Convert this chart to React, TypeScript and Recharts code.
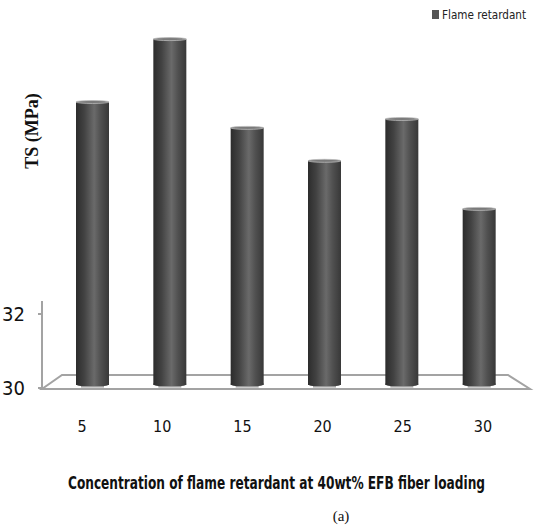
import React from "react";
import { BarChart, Bar, XAxis, YAxis, ReferenceArea, Legend } from "recharts";

const categories = ["5", "10", "15", "20", "25", "30"];
const tsValues = [37.73, 39.43, 37.03, 36.14, 37.27, 34.84];
const yTicks = [30, 32];
const seriesName = "Flame retardant";
const xTitle = "Concentration  of flame retardant at 40wt%  EFB fiber loading";
const yTitle = "TS (MPa)";
const caption = "(a)";

const data = categories.map((c, i) => ({ conc: c, ts: tsValues[i] }));

const NARROW = "'Liberation Sans Narrow', 'Arial Narrow', 'DejaVu Sans Condensed', sans-serif";
const SERIF = "'Liberation Serif', 'Times New Roman', serif";

const Cylinder = (props: any) => {
  const { x, y, width, height } = props;
  if (!height || height <= 0) return null;
  const cx = x + width / 2;
  const rx = width / 2;
  return (
    <g>
      <rect x={x} y={y} width={width} height={height - 3} fill="url(#cylGrad)" />
      <ellipse cx={cx} cy={y + height - 4} rx={rx} ry={3} fill="url(#cylGrad)" />
      <rect x={x + 5} y={y + height - 2} width={width - 10} height={1.5} fill="#9a9a9a" />
      <ellipse cx={cx} cy={y} rx={rx} ry={1.5} fill="#7a7a7a" stroke="#b8b8b8" strokeWidth={0.8} />
    </g>
  );
};

const Floor = (props: any) => {
  const { x, y, width, height } = props;
  const bottom = y + height;
  const depth = 14;
  const stroke = "#a3a3a3";
  const pts = [
    [x, bottom + 1],
    [x + width + 7, bottom + 1],
    [x + width - 15, bottom - depth + 1],
    [x + 20, bottom - depth + 1],
  ];
  return (
    <g>
      <polygon
        points={pts.map((p) => p.join(",")).join(" ")}
        fill="none"
        stroke={stroke}
        strokeWidth={2}
      />
      <line x1={x} y1={y} x2={x} y2={bottom + 1} stroke={stroke} strokeWidth={2} />
    </g>
  );
};

const LegendContent = () => (
  <svg width={110} height={30} style={{ overflow: "visible" }}>
    <rect x={8} y={10} width={7} height={9} fill="#555555" />
    <text x={18} y={19} fontFamily={NARROW} fontSize={13} fill="#222" textLength={84} lengthAdjust="spacingAndGlyphs">
      {seriesName}
    </text>
  </svg>
);

const XTitle = (props: any) => {
  const vb = props.viewBox || {};
  const cx = vb.x + vb.width / 2;
  return (
    <g>
      <text
        x={cx - 6}
        y={vb.y + 101}
        textAnchor="middle"
        fontFamily={NARROW}
        fontWeight="bold"
        fontSize={17}
        fill="#111"
        textLength={417}
        lengthAdjust="spacingAndGlyphs"
      >
        {xTitle}
      </text>
      <text x={341} y={vb.y + 133} textAnchor="middle" fontFamily={SERIF} fontSize={15} fill="#111">
        {caption}
      </text>
    </g>
  );
};

const YTitle = () => (
  <text
    x={0}
    y={0}
    transform="translate(38,131) rotate(-90)"
    textAnchor="middle"
    fontFamily={SERIF}
    fontWeight="bold"
    fontSize={18}
    fill="#111"
  >
    {yTitle}
  </text>
);

export default function App() {
  return (
    <div style={{ position: "absolute", left: 0, top: 0, width: 534, height: 530, background: "#fff" }}>
      <BarChart
        width={534}
        height={530}
        data={data}
        margin={{ top: 18, right: 11, left: 0, bottom: 82 }}
      >
        <defs>
          <linearGradient id="cylGrad" x1="0" y1="0" x2="1" y2="0">
            <stop offset="0%" stopColor="#2c2c2c" />
            <stop offset="25%" stopColor="#424242" />
            <stop offset="55%" stopColor="#6a6a6a" />
            <stop offset="75%" stopColor="#505050" />
            <stop offset="100%" stopColor="#383838" />
          </linearGradient>
        </defs>
        <XAxis
          xAxisId="front"
          dataKey="conc"
          height={60}
          axisLine={false}
          tickLine={false}
          tickSize={0}
          tickMargin={33}
          tick={{ fontFamily: NARROW, fontSize: 16, fill: "#111" }}
          label={<XTitle />}
        />
        <XAxis xAxisId="back" dataKey="conc" hide height={0} padding={{ left: 12, right: 5 }} />
        <YAxis
          width={42}
          domain={[30, 40]}
          ticks={yTicks}
          allowDataOverflow
          axisLine={false}
          tickLine={{ stroke: "#a3a3a3", strokeWidth: 2 }}
          tickSize={4}
          tickMargin={13}
          tick={{ fontFamily: NARROW, fontSize: 20, fill: "#111" }}
          label={<YTitle />}
        />
        <ReferenceArea xAxisId="front" y1={30} y2={32.35} shape={<Floor />} ifOverflow="visible" />
        <Bar
          xAxisId="back"
          dataKey="ts"
          name={seriesName}
          barSize={33}
          shape={<Cylinder />}
          isAnimationActive={false}
        />
        <Legend
          verticalAlign="middle"
          align="center"
          content={<LegendContent />}
          wrapperStyle={{ position: "absolute", top: 0, right: 0, left: "auto", width: 110, height: 30 }}
        />
      </BarChart>
    </div>
  );
}
